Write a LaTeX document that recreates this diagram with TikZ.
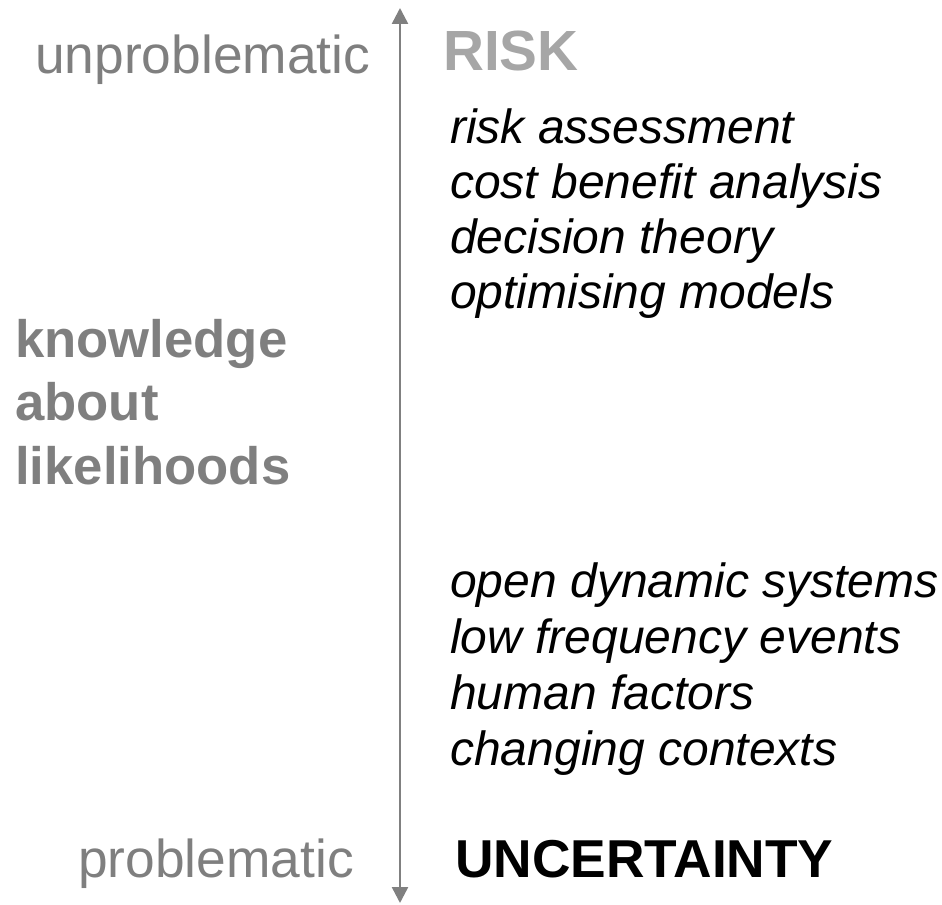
\documentclass[tikz,border=0pt]{standalone}
\usepackage{fontspec}
\setmainfont{Liberation Sans}
\usepackage{tikz}
\usetikzlibrary{arrows.meta, positioning}
\definecolor{axiscolor}{RGB}{128, 128, 128}
\definecolor{polecolor}{RGB}{127, 127, 127}
\definecolor{riskcolor}{RGB}{166, 166, 166}
\definecolor{itemcolor}{RGB}{0, 0, 0}

\tikzset{
  label text/.style={inner sep=0pt, anchor=base west},
  pole text/.style={label text, text=polecolor, font=\fontsize{40}{48}\selectfont},
  item text/.style={label text, text=itemcolor, font=\fontsize{36}{41}\selectfont\itshape},
  axis text/.style={label text, text=polecolor, font=\fontsize{39.5}{47}\selectfont\bfseries}
}

\begin{document}
\begin{tikzpicture}[x=0.75pt, y=-0.75pt]
        \useasboundingbox (0, 0) rectangle (942, 905);

        % Vertical axis
        \coordinate (axistop) at (400, 8);
        \coordinate (axisbottom) at (400, 903);
        \draw[{Triangle[length=12pt, width=12pt]}-{Triangle[length=12pt, width=12pt]}, line width=1.9pt, draw=axiscolor] (axistop) -- (axisbottom);

        % Poles of the axis
        \node[pole text] (unproblematic) at (35, 74) {unproblematic};
        \node[pole text] (problematic) at (78, 877) {problematic};

        \node[label text, text=riskcolor, font=\fontsize{42.5}{50}\selectfont\bfseries] (risk) at (443, 71) {RISK};
        \node[label text, text=itemcolor, font=\fontsize{40}{48}\selectfont\bfseries] (uncertainty) at (455, 877) {UNCERTAINTY};

        % Axis label
        \node[axis text] (knowledge) at (15, 358) {knowledge};
        \node[axis text] (about) at (15, 421) {about};
        \node[axis text] (likelihoods) at (15, 484) {likelihoods};

        % Methods under risk
        \node[item text] (assessment) at (450, 144) {risk assessment};
        \node[item text] (costbenefit) at (450, 199) {cost benefit analysis};
        \node[item text] (decision) at (450, 254) {decision theory};
        \node[item text] (optimising) at (450, 309) {optimising models};

        % Sources of uncertainty
        \node[item text] (opensystems) at (450, 597) {open dynamic systems};
        \node[item text] (lowfrequency) at (450, 653) {low frequency events};
        \node[item text] (humanfactors) at (450, 709) {human factors};
        \node[item text] (contexts) at (450, 765) {changing contexts};

    \end{tikzpicture}
\end{document}
